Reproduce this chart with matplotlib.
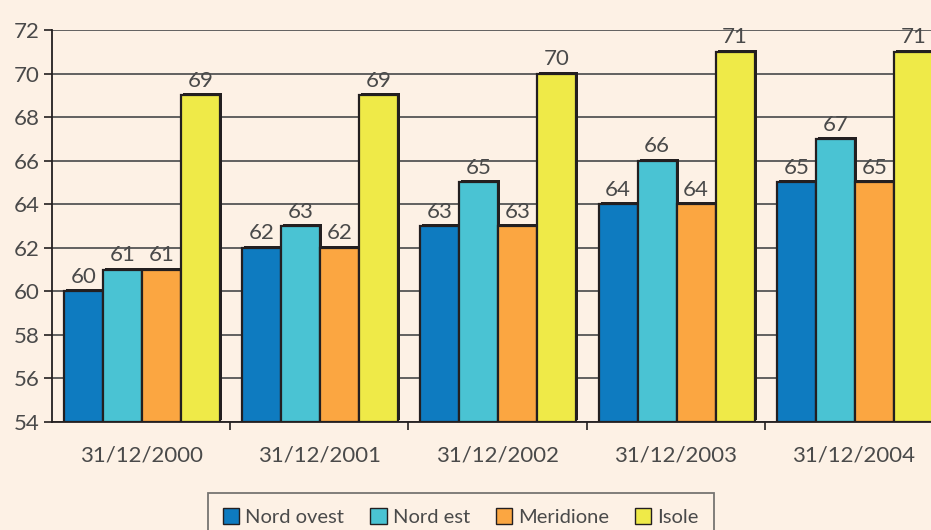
import numpy as np
import matplotlib.pyplot as plt
import matplotlib.transforms as mtransforms

# dati
dates = ['31/12/2000', '31/12/2001', '31/12/2002', '31/12/2003', '31/12/2004']
nord_ovest = [60, 62, 63, 64, 65]
nord_est = [61, 63, 65, 66, 67]
meridione = [61, 62, 63, 64, 65]
isole = [69, 69, 70, 71, 71]

series = [('Nord ovest', nord_ovest, '#0e7bc0'),
          ('Nord est', nord_est, '#4ac3d3'),
          ('Meridione', meridione, '#fba641'),
          ('Isole', isole, '#efea48')]

bg = '#fdf1e5'
dark = '#231f20'
txt = '#4a4a4a'
plt.rcParams['font.family'] = ['Lato', 'DejaVu Sans']

fig = plt.figure(figsize=(9.31, 5.30), dpi=100, facecolor=bg)
ax = fig.add_axes([52/931, 108/530, 891/931, 392/530], facecolor=bg)

x = np.arange(len(dates))
w = 0.219
offs = (np.arange(4) - 1.5) * w + 0.005
# piccolo effetto 3D: ombra scura spostata in alto a destra
shadow = mtransforms.offset_copy(ax.transData, fig=fig, x=2, y=2, units='dots')
handles = []
for (name, vals, col), o in zip(series, offs):
    ax.bar(x + o, np.array(vals) - 54, w, bottom=54, color=dark,
           transform=shadow, zorder=2)
    b = ax.bar(x + o, np.array(vals) - 54, w, bottom=54, color=col,
               edgecolor=dark, linewidth=1.6, zorder=3, label=name)
    handles.append(b)
    for xi, v in zip(x + o, vals):
        ax.text(xi, v + 0.2, str(v), ha='center', va='bottom',
                fontsize=16, color=txt, zorder=4)

ax.set_ylim(54, 72)
ax.set_xlim(-0.5, len(dates) - 0.5)
ax.set_yticks(np.arange(54, 73, 2))
ax.set_yticklabels([str(v) for v in range(54, 73, 2)], fontsize=16, color=txt)
ax.set_xticks(x)
ax.set_xticklabels(dates, fontsize=16, color=txt)
ax.tick_params(axis='x', length=0, pad=17)
ax.set_xticks(np.arange(0.5, len(dates), 1), minor=True)
ax.tick_params(axis='x', which='minor', length=6, color=dark, width=1.2)
ax.tick_params(axis='y', length=6, color=dark, width=1.2, pad=3)

ax.yaxis.grid(True, color='#555555', linewidth=1.3, zorder=0)
ax.set_axisbelow(True)
for s in ['top', 'right']:
    ax.spines[s].set_visible(False)
for s in ['left', 'bottom']:
    ax.spines[s].set_color(dark)
    ax.spines[s].set_linewidth(1.3)

leg = fig.legend(handles=handles, loc='upper center', bbox_to_anchor=(461/931, 1 - 493/530),
                 ncol=4, frameon=True, fontsize=14.5, handlelength=0.8,
                 handleheight=0.8, handletextpad=0.3, columnspacing=1.3,
                 borderpad=0.75, borderaxespad=0, fancybox=False,
                 edgecolor='#555555')
leg.get_frame().set_facecolor(bg)
leg.get_frame().set_linewidth(1.3)
for t in leg.get_texts():
    t.set_color(txt)
for h in leg.legend_handles:
    h.set_linewidth(1.0)

fig.savefig('out.png', dpi=100, facecolor=bg)
